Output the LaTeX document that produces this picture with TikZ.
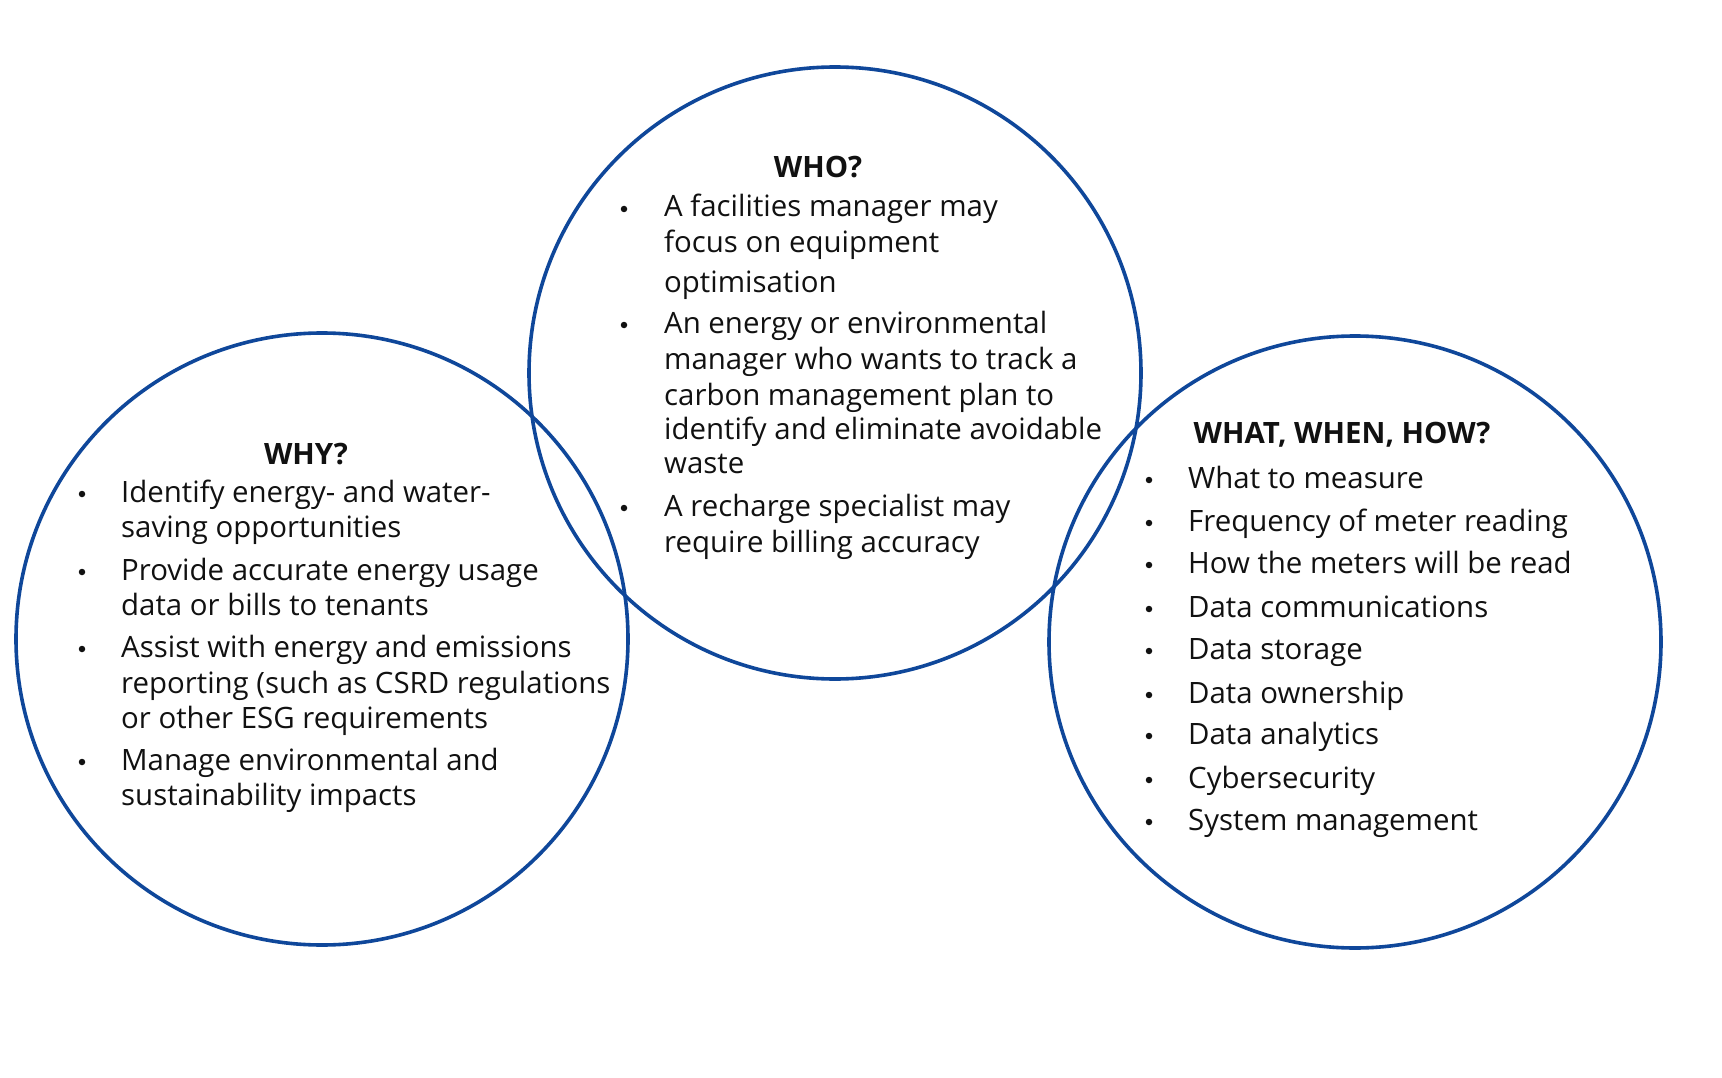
\documentclass[tikz,border=0pt]{standalone}
\usepackage{fontspec}
\setmainfont{Open Sans}[Ligatures=NoCommon]
\definecolor{ringblue}{HTML}{0F479A}
\definecolor{txt}{HTML}{111111}
\begin{document}
\begin{tikzpicture}[x=1pt,y=-1pt,
  ring/.style={draw=ringblue,line width=3.6pt},
  head/.style={anchor=base,inner sep=0pt,text=txt,font=\fontsize{29.4}{34}\selectfont\bfseries},
  line/.style={anchor=base west,inner sep=0pt,text=txt,font=\fontsize{29.4}{34}\selectfont},
  dot/.style={circle,fill=txt,inner sep=0pt,minimum size=6.5pt}]
\useasboundingbox (0,0) rectangle (1722,1078);
\fill[white] (0,0) rectangle (1722,1078);
% circles
\node[ring,circle,minimum size=612pt,inner sep=0pt] (cwhy) at (322,639) {};
\node[ring,circle,minimum size=612pt,inner sep=0pt] (cwho) at (835,373) {};
\node[ring,circle,minimum size=612pt,inner sep=0pt] (cwhat) at (1355,642) {};
% WHY
\node[head] (hwhy) at (306,464) {WHY?};
\node[dot] (bw1) at (82,494) {};
\node[line] (w1a) at (121,502) {Identify energy- and water-};
\node[line] (w1b) at (121,537) {saving opportunities};
\node[dot] (bw2) at (82,572) {};
\node[line] (w2a) at (121,580) {Provide accurate energy usage};
\node[line] (w2b) at (121,615) {data or bills to tenants};
\node[dot] (bw3) at (82,649) {};
\node[line] (w3a) at (121,657) {Assist with energy and emissions};
\node[line] (w3b) at (121,693) {reporting (such as CSRD regulations};
\node[line] (w3c) at (121,728) {or other ESG requirements};
\node[dot] (bw4) at (82,762) {};
\node[line] (w4a) at (121,770) {Manage environmental and};
\node[line] (w4b) at (121,805) {sustainability impacts};
% WHO
\node[head] (hwho) at (818,178) {WHO?};
\node[dot] (bo1) at (624,209) {};
\node[line] (o1a) at (664,217) {A facilities manager may};
\node[line] (o1b) at (664,253) {focus on equipment};
\node[line] (o1c) at (664,292) {optimisation};
\node[dot] (bo2) at (624,325) {};
\node[line] (o2a) at (664,333) {An energy or environmental};
\node[line] (o2b) at (664,369) {manager who wants to track a};
\node[line] (o2c) at (664,405) {carbon management plan to};
\node[line] (o2d) at (664,439) {identify and eliminate avoidable};
\node[line] (o2e) at (664,473) {waste};
\node[dot] (bo3) at (624,508) {};
\node[line] (o3a) at (664,516) {A recharge specialist may};
\node[line] (o3b) at (664,552) {require billing accuracy};
% WHAT WHEN HOW
\node[head] (hwhat) at (1342,443) {WHAT, WHEN, HOW?};
\node[dot] (bh1) at (1149,480) {};
\node[line] (h1) at (1188,488) {What to measure};
\node[dot] (bh2) at (1149,523) {};
\node[line] (h2) at (1188,531) {Frequency of meter reading};
\node[dot] (bh3) at (1149,565) {};
\node[line] (h3) at (1188,573) {How the meters will be read};
\node[dot] (bh4) at (1149,609) {};
\node[line] (h4) at (1188,617) {Data communications};
\node[dot] (bh5) at (1149,651) {};
\node[line] (h5) at (1188,659) {Data storage};
\node[dot] (bh6) at (1149,695) {};
\node[line] (h6) at (1188,703) {Data ownership};
\node[dot] (bh7) at (1149,736) {};
\node[line] (h7) at (1188,744) {Data analytics};
\node[dot] (bh8) at (1149,780) {};
\node[line] (h8) at (1188,788) {Cybersecurity};
\node[dot] (bh9) at (1149,822) {};
\node[line] (h9) at (1188,830) {System management};
\end{tikzpicture}
\end{document}
